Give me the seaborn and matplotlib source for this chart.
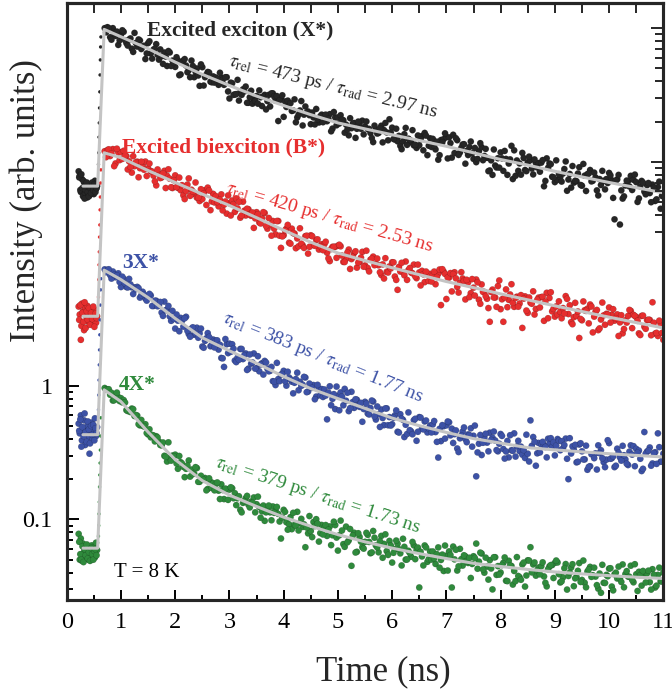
import numpy as np
import pandas as pd
import matplotlib
matplotlib.use("Agg")
import matplotlib.pyplot as plt
import seaborn as sns
from matplotlib.ticker import FixedLocator, NullFormatter

# ---------------- data ----------------
series_names = ["X*", "B*", "3X*", "4X*"]
series_colors = ["#262626", "#e62e2e", "#3d52a6", "#2f8a3c"]

# time bins before the pulse (ns)
t_pre = [0.22, 0.24, 0.26, 0.28, 0.30, 0.32, 0.34, 0.36, 0.38, 0.40,
         0.42, 0.44, 0.46, 0.48, 0.50, 0.52, 0.54, 0.56]
t_pre2 = [0.23, 0.25, 0.27, 0.29, 0.31, 0.33, 0.35, 0.37, 0.39, 0.41,
          0.43, 0.45, 0.47, 0.49, 0.51, 0.53, 0.55]
# time bins on the rising edge (ns)
t_rise = [0.585, 0.59, 0.595, 0.60, 0.605, 0.61, 0.615, 0.62, 0.625, 0.63]
# decay time bins: 0.70 ... 11.00 ns and the interleaved 0.725 ... 10.975 ns
t_decay = np.round(np.arange(0.70, 11.0001, 0.05), 3)
t_decay2 = np.round(np.arange(0.725, 10.976, 0.05), 3)

black_pre = [40, 37, 28, 35, 26, 33, 27.5, 31, 25.5, 30, 26.5, 32, 28, 31, 27, 34, 29.5, 31]
red_pre = [3.9, 3.4, 2.2, 4.1, 3.6, 2.6, 3.8, 3.3, 3.95, 3.0, 3.6, 3.2, 2.9, 3.4, 3.05, 3.7, 2.95, 3.3]
blue_pre = [0.52, 0.44, 0.6, 0.39, 0.47, 0.55, 0.36, 0.43, 0.5, 0.41, 0.31, 0.46, 0.53, 0.4, 0.45, 0.57, 0.42, 0.49]
green_pre = [0.078, 0.05, 0.072, 0.049, 0.066, 0.057, 0.052, 0.061, 0.055, 0.05, 0.058, 0.053,
             0.064, 0.056, 0.062, 0.052, 0.067, 0.059]

black_pre2 = [36, 29, 38, 30, 34, 25, 29, 33, 28, 26, 30, 27.5, 33, 29, 32, 28, 30]
red_pre2 = [3.1, 4.0, 2.8, 3.5, 3.0, 4.2, 2.7, 3.6, 3.1, 3.8, 2.85, 3.5, 3.15, 3.9, 2.75, 3.45, 3.2]
blue_pre2 = [0.46, 0.56, 0.35, 0.49, 0.42, 0.62, 0.45, 0.38, 0.54, 0.47, 0.37, 0.5, 0.43, 0.51, 0.39, 0.48, 0.44]
green_pre2 = [0.068, 0.055, 0.05, 0.063, 0.048, 0.06, 0.054, 0.065, 0.051, 0.057, 0.049, 0.061,
              0.055, 0.05, 0.058, 0.06, 0.054]

black_rise = [45, 55, 72, 92, 119, 157, 210, 272, 340, 404]
red_rise = [4.6, 6.2, 8.0, 10, 12.9, 15.9, 20.6, 25.7, 32.7, 41]
blue_rise = [0.66, 0.85, 1.1, 1.43, 1.85, 2.4, 3.1, 4.0, 5.2, 6.3]
green_rise = [0.075, 0.09, 0.11, 0.135, 0.175, 0.215, 0.264, 0.33, 0.42, 0.575]

black_decay = [
    470, 478, 402, 470, 411, 352, 421,
    441, 363, 386, 330, 433, 342, 380, 342, 276, 363,
    304, 325, 357, 273, 290, 309, 245, 309, 269, 241,
    270, 212, 269, 247, 228, 269, 202, 235, 174, 240,
    202, 221, 187, 205, 201, 177, 201, 177, 202, 140,
    182, 150, 193, 156, 164, 172, 130, 160, 137, 146,
    161, 123, 149, 134, 122, 153, 135, 95, 139, 102,
    121, 130, 113, 138, 101, 114, 88, 122, 112, 90,
    101, 117, 92.6, 106, 105, 94.7, 107, 83.4, 101, 101,
    105, 96.3, 89.3, 74.3, 84, 91.8, 83.1, 88.2, 95.6, 86.3,
    82.8, 77.3, 66.1, 82.2, 77.4, 87.6, 81.3, 78.1, 98, 84.8,
    69.1, 67, 62, 67.1, 84.4, 70.1, 65.9, 62.5, 59.8, 62.6,
    73.4, 77.4, 52.8, 70.6, 69.9, 58.3, 48.8, 68.5, 69.6, 72,
    71.7, 50.6, 54.7, 68.3, 55.3, 63.4, 45.6, 52.9, 66.8, 49.5,
    46.8, 56.5, 60.6, 52.1, 50.4, 40.6, 37.6, 44.2, 50.1, 55.4,
    40.3, 49.5, 45.7, 62, 57.4, 48.2, 45.8, 54.9, 40.9, 46.7,
    48.4, 37.9, 46.1, 46.1, 46.4, 30.9, 50, 45.8, 36.4, 33.2,
    34.5, 36.2, 38.5, 47.4, 34.7, 30.2, 32.9, 33.7, 42.9, 31.2,
    37.1, 38.1, 40.9, 34, 36, 26.4, 31.6, 33.9, 35, 38.9,
    34.3, 17.5, 34.8, 16, 25, 31.3, 33.8, 37, 34.5, 33.2,
    25.1, 33.9, 28.2, 31.5, 27.5, 31.8, 24, 30.5, 21, 26]

black_decay2 = [
    437, 470, 385, 432, 443, 381, 453, 382, 348, 394,
    312, 364, 387, 328, 347, 304, 375, 278, 329, 297,
    326, 254, 288, 317, 245, 259, 285, 209, 259, 276,
    220, 202, 245, 222, 208, 252, 175, 211, 219, 185,
    184, 196, 218, 193, 202, 158, 184, 149, 151, 135,
    149, 158, 130, 143, 128, 134, 128, 143, 145, 116,
    149, 153, 145, 146, 136, 148, 133, 135, 129, 114,
    93, 106, 134, 106, 110, 105, 110, 89.6, 97.7, 103,
    93.1, 106, 98.9, 79.6, 111, 88.3, 91, 97.2, 77.7, 82.2,
    99.8, 90.9, 71.1, 94.1, 83.1, 75.5, 94.3, 83, 70.9, 87.8,
    76.6, 83.7, 65.8, 91.9, 68.2, 78, 69.8, 83.2, 73.6, 58.5,
    75.8, 63, 68.7, 81.2, 63.2, 74.1, 69.3, 57.4, 73.9, 62.1,
    60.8, 62.2, 66.6, 52.8, 65.8, 76.9, 49.9, 65, 75, 70.7,
    53, 59.9, 63.8, 56.9, 60.7, 54.5, 59.8, 49.5, 64.9, 48.4,
    58.8, 40.1, 48.3, 58.2, 42.7, 42.6, 50, 56.8, 37.6, 49.1,
    35, 37, 40.3, 37.7, 50.3, 40.1, 51.5, 41.9, 49.1, 42.7,
    39.7, 48.5, 33.9, 42.5, 45.2, 36, 48.3, 38.1, 33.5, 41.6,
    28.6, 38.2, 43.8, 34, 38.5, 31.6, 45.4, 28.5, 38.5, 33.6,
    39.1, 28.8, 35, 40.3, 29.3, 32.7, 37.3, 25.3, 34.1, 37.6,
    28.8, 26, 34.1, 30.8, 29, 37.8, 23.6, 30.9, 32.9, 26.9,
    32.7, 23.5, 30.1, 24.7, 33.5, 26.2]

red_decay = [
    56.5, 57.6, 52, 58.6, 45.8, 55.4, 55.6,
    56.9, 51.9, 47.5, 39.1, 43.7, 47.2, 42.2, 44.2, 47.3, 42.1,
    40.1, 37.1, 31.4, 38.6, 36, 40.3, 37, 35.2, 30, 37.3,
    30.1, 28.9, 26.5, 28.5, 35.4, 29.1, 27.1, 25.4, 24, 24.8,
    28.9, 30.2, 20.5, 27.1, 26.1, 21.9, 26.9, 22.5, 19.3, 23.1,
    24.2, 19.9, 21.1, 18, 23.7, 18.7, 20.8, 18.6, 15.1, 19.8,
    16.6, 17.8, 19.5, 14.9, 15.9, 17, 13.5, 17, 10.7, 13.3,
    14.9, 11.7, 14.9, 13.7, 12.6, 15, 11.2, 13.1, 9.7, 13.3,
    11.25, 12.3, 10.4, 11.4, 11.4, 9.86, 8.53, 10.9, 10.9, 11.1,
    11, 8.41, 8.87, 10.4, 8.83, 9.81, 7.62, 8.4, 10, 7.91,
    7.57, 8.74, 9.21, 8.12, 7.94, 6.72, 6.32, 7.1, 7.78, 8.36,
    6.54, 5.2, 7.13, 7.04, 8.47, 7.3, 7.01, 8.03, 6.36, 7.02,
    7.21, 5.94, 6.86, 6.84, 6.7, 5.73, 6.85, 4.0, 7.11, 4.44,
    6.42, 5.06, 7.04, 5.47, 5.87, 6.32, 4.41, 5.91, 4.91, 5.4,
    6.21, 4.39, 5.71, 5.02, 4.46, 3.0, 5.22, 4.56, 5.55, 3.73,
    3.0, 5.24, 4.38, 5.73, 3.88, 4.62, 4.11, 2.7, 4.65, 3.5,
    4.17, 5.07, 3.74, 4.55, 4.59, 3.05, 4.94, 4.52, 3.59, 3.28,
    3.4, 3.57, 3.8, 4.67, 3.43, 2.98, 3.25, 3.32, 2.27, 3.08,
    3.66, 3.76, 4.04, 2.5, 3.56, 2.6, 3.12, 3.35, 3.44, 3.84,
    3.38, 3.06, 3.41, 2.97, 2.46, 3.08, 3.32, 3.62, 3.38, 3.26,
    2.46, 3.32, 2.76, 3.09, 3.1, 4.2, 2.45, 2.35, 2.9, 2.2]

red_decay2 = [
    51, 58.4, 54.4, 43.7, 59, 48.5, 49.5, 52.4, 41.3, 43.2,
    51.9, 46.7, 36.1, 47.2, 41.1, 36.9, 45.7, 39.8, 33.7, 41.3,
    35.6, 38.5, 30, 41.4, 30.4, 34.3, 30.5, 35.9, 31.5, 24.8,
    31.8, 26.2, 28.2, 33, 25.4, 29.4, 27.3, 22.4, 28.7, 23.8,
    23.4, 23.6, 24.5, 20.4, 23.8, 26.4, 18.7, 22.7, 25.1, 23.6,
    18.7, 20.3, 21, 19, 19.7, 17.8, 19.1, 16.3, 19.8, 15.6,
    17.9, 13.2, 14.9, 17, 13.2, 13.05, 14.5, 15.9, 11.5, 13.8,
    10.65, 11, 11.5, 10.7, 13.2, 10.9, 13.1, 11.1, 12.4, 11,
    10.3, 11.9, 8.94, 10.5, 10.9, 9.02, 11.3, 9.37, 8.4, 9.88,
    7.45, 9.17, 10.1, 8.31, 9.07, 7.74, 10.2, 7.14, 8.88, 7.95,
    8.91, 7.04, 8.06, 8.97, 7.01, 7.52, 8.35, 6.17, 7.72, 8.28,
    6.68, 6.17, 7.57, 6.92, 6.57, 8.03, 5.61, 6.8, 7.12, 6.06,
    6.0, 7.12, 6.48, 7.38, 7.42, 6.84, 6.42, 6.94, 6.81, 6.34,
    4.96, 7.05, 6.08, 6.18, 4.59, 6.26, 4.71, 5.92, 4.09, 5.02,
    4.67, 3.8, 5.02, 4.56, 3.88, 6.11, 4.42, 4.57, 3.86, 4.8,
    4.16, 4.52, 3.89, 4.75, 4.47, 3.64, 4.56, 4.09, 3.4, 4.38,
    3.84, 4.61, 4.24, 3.19, 4.99, 3.75, 3.91, 4.27, 3.19, 3.46,
    4.45, 3.99, 2.88, 4.16, 3.58, 3.15, 4.26, 3.62, 2.92, 3.9,
    3.28, 3.68, 2.68, 4.18, 2.85, 3.41, 2.96, 3.73, 3.19, 2.35,
    3.36, 2.65, 2.96, 3.68, 2.69, 3.32, 3.05, 2.39, 3.34, 2.66,
    3.11, 2.38, 2.95, 2.48, 3.06, 2.48]

blue_decay = [
    7.4, 7.32, 6.71, 7.13, 6.46, 6.91, 5.46,
    6.28, 5.46, 6.28, 5.43, 5.43, 5.47, 4.55, 5.03, 4.48, 4.55,
    4.72, 3.94, 4.31, 3.96, 3.52, 4.25, 3.7, 3.29, 3.62, 2.67,
    3.06, 3.21, 2.76, 3.27, 2.43, 2.67, 2.4, 2.71, 2.46, 1.96,
    2.16, 2.47, 1.97, 2.21, 2.17, 1.86, 1.61, 1.38, 2.04, 2.06,
    2.04, 1.54, 1.62, 1.88, 1.58, 1.74, 1.34, 1.46, 1.74, 1.35,
    1.28, 1.47, 1.53, 1.34, 1.29, 1.08, 1.01, 1.12, 1.21, 1.29,
    1.0, 1.15, 1.07, 1.05, 1.25, 1.07, 1.016, 1.15, 0.904, 0.988,
    1.01, 0.828, 0.95, 0.943, 0.936, 0.56, 0.989, 0.797, 0.668, 0.84,
    0.89, 0.713, 0.771, 0.645, 0.9, 0.682, 0.784, 0.694, 0.537, 0.757,
    0.619, 0.681, 0.761, 0.558, 0.612, 0.663, 0.507, 0.676, 0.582, 0.515,
    0.599, 0.452, 0.612, 0.555, 0.51, 0.631, 0.455, 0.552, 0.387, 0.582,
    0.477, 0.54, 0.447, 0.504, 0.513, 0.45, 0.29, 0.385, 0.498, 0.505,
    0.532, 0.477, 0.434, 0.339, 0.404, 0.454, 0.399, 0.432, 0.48, 0.422,
    0.21, 0.368, 0.303, 0.406, 0.375, 0.445, 0.408, 0.389, 0.323, 0.435,
    0.336, 0.322, 0.291, 0.329, 0.44, 0.351, 0.324, 0.305, 0.288, 0.31,
    0.55, 0.413, 0.252, 0.373, 0.364, 0.36, 0.291, 0.367, 0.349, 0.301,
    0.399, 0.329, 0.341, 0.402, 0.2, 0.311, 0.333, 0.267, 0.363, 0.323,
    0.281, 0.235, 0.25, 0.307, 0.312, 0.358, 0.329, 0.268, 0.28, 0.372,
    0.287, 0.246, 0.338, 0.291, 0.355, 0.281, 0.255, 0.358, 0.353, 0.337,
    0.327, 0.23, 0.45, 0.322, 0.345, 0.262, 0.318, 0.44, 0.27, 0.31]

blue_decay2 = [
    7.04, 7.41, 6.31, 6.72, 6.66, 5.95, 6.52, 5.81, 5.42, 5.71,
    4.84, 5.26, 5.35, 4.73, 4.81, 4.32, 4.85, 3.94, 4.31, 3.92,
    4.22, 3.32, 3.66, 3.94, 3.05, 3.15, 3.4, 2.55, 3.06, 3.19,
    2.57, 2.32, 2.73, 2.46, 2.28, 2.67, 1.92, 2.26, 2.31, 2.0,
    1.93, 2.18, 2.02, 1.6, 2.23, 1.75, 1.79, 1.89, 1.5, 1.56,
    1.88, 1.69, 1.31, 1.71, 1.49, 1.34, 1.66, 1.44, 1.21, 1.49,
    1.28, 1.38, 1.07, 1.48, 1.08, 1.22, 1.08, 1.27, 1.115, 0.876,
    1.12, 0.924, 0.996, 1.163, 0.894, 1.036, 0.963, 0.791, 1.014, 0.846,
    0.823, 0.843, 0.887, 0.714, 0.864, 0.984, 0.654, 0.829, 0.946, 0.885,
    0.679, 0.755, 0.791, 0.708, 0.743, 0.669, 0.733, 0.609, 0.774, 0.59,
    0.699, 0.491, 0.573, 0.676, 0.506, 0.503, 0.576, 0.653, 0.446, 0.566,
    0.413, 0.435, 0.465, 0.433, 0.565, 0.452, 0.577, 0.471, 0.549, 0.48,
    0.447, 0.544, 0.38, 0.476, 0.507, 0.402, 0.54, 0.425, 0.373, 0.463,
    0.319, 0.424, 0.487, 0.378, 0.427, 0.35, 0.503, 0.317, 0.428, 0.374,
    0.437, 0.323, 0.392, 0.454, 0.33, 0.368, 0.421, 0.285, 0.386, 0.426,
    0.326, 0.295, 0.387, 0.35, 0.33, 0.43, 0.271, 0.355, 0.381, 0.312,
    0.317, 0.38, 0.348, 0.401, 0.405, 0.377, 0.356, 0.388, 0.384, 0.36,
    0.284, 0.405, 0.352, 0.361, 0.27, 0.371, 0.281, 0.356, 0.247, 0.307,
    0.287, 0.236, 0.313, 0.287, 0.246, 0.391, 0.284, 0.296, 0.252, 0.315,
    0.275, 0.302, 0.261, 0.321, 0.305, 0.25, 0.315, 0.284, 0.239, 0.31,
    0.327, 0.252, 0.313, 0.26, 0.347, 0.272]

green_decay = [
    0.96, 0.939, 0.855, 0.774, 0.846, 0.822, 0.806,
    0.78, 0.656, 0.647, 0.674, 0.593, 0.597, 0.505, 0.502, 0.515, 0.432,
    0.411, 0.424, 0.419, 0.382, 0.358, 0.299, 0.271, 0.289, 0.3, 0.305,
    0.239, 0.268, 0.247, 0.239, 0.276, 0.236, 0.22, 0.242, 0.191, 0.203,
    0.204, 0.169, 0.191, 0.187, 0.184, 0.164, 0.183, 0.142, 0.168, 0.167,
    0.171, 0.157, 0.144, 0.118, 0.133, 0.144, 0.129, 0.136, 0.146, 0.13,
    0.124, 0.115, 0.0976, 0.121, 0.113, 0.125, 0.116, 0.11, 0.072, 0.118,
    0.0953, 0.0919, 0.0846, 0.0911, 0.114, 0.094, 0.0879, 0.062, 0.0787, 0.0819,
    0.0957, 0.1005, 0.0683, 0.0909, 0.0872, 0.0753, 0.0887, 0.0762, 0.0907, 0.0585,
    0.098, 0.0654, 0.0884, 0.0697, 0.045, 0.0795, 0.0573, 0.074, 0.062, 0.068,
    0.0767, 0.0559, 0.082, 0.0639, 0.0568, 0.0753, 0.0656, 0.058, 0.0691, 0.0476,
    0.0599, 0.0659, 0.0558, 0.0717, 0.0501, 0.0583, 0.0526, 0.064, 0.0589, 0.031,
    0.0529, 0.0639, 0.0482, 0.0575, 0.0576, 0.0465, 0.0618, 0.0498, 0.0412, 0.0536,
    0.0577, 0.031, 0.0503, 0.0415, 0.0603, 0.0452, 0.053, 0.0473, 0.0365, 0.0531,
    0.066, 0.0484, 0.0556, 0.04, 0.0444, 0.0496, 0.030, 0.0522, 0.0448, 0.0401,
    0.0474, 0.0348, 0.0491, 0.0449, 0.0412, 0.0523, 0.037, 0.0461, 0.0315, 0.0495,
    0.062, 0.0461, 0.038, 0.0437, 0.0447, 0.0375, 0.0316, 0.0446, 0.0456, 0.0474,
    0.0477, 0.0338, 0.0369, 0.0464, 0.0378, 0.0437, 0.0317, 0.0371, 0.0472, 0.0353,
    0.0336, 0.0408, 0.0442, 0.0383, 0.0374, 0.0304, 0.0283, 0.0336, 0.0385, 0.0429,
    0.0315, 0.0389, 0.0362, 0.0361, 0.0461, 0.039, 0.0374, 0.0451, 0.0339, 0.0389,
    0.0406, 0.032, 0.0394, 0.0396, 0.034, 0.0425, 0.031, 0.0385, 0.0345, 0.040]

green_decay2 = [
    0.93, 0.94, 0.885, 0.778, 0.887, 0.767, 0.75, 0.748, 0.646, 0.635,
    0.667, 0.603, 0.515, 0.554, 0.495, 0.442, 0.472, 0.428, 0.383, 0.41,
    0.36, 0.376, 0.294, 0.377, 0.275, 0.296, 0.262, 0.298, 0.262, 0.207,
    0.253, 0.209, 0.218, 0.246, 0.191, 0.212, 0.198, 0.165, 0.203, 0.172,
    0.165, 0.189, 0.142, 0.166, 0.17, 0.14, 0.174, 0.144, 0.128, 0.149,
    0.113, 0.137, 0.15, 0.123, 0.133, 0.113, 0.148, 0.103, 0.127, 0.113,
    0.127, 0.0986, 0.112, 0.124, 0.0965, 0.103, 0.114, 0.0838, 0.104, 0.112,
    0.0897, 0.0827, 0.101, 0.092, 0.0869, 0.106, 0.0738, 0.0892, 0.0931, 0.0791,
    0.0772, 0.0908, 0.0838, 0.0643, 0.0962, 0.0732, 0.0761, 0.0827, 0.0624, 0.0675,
    0.0848, 0.0759, 0.0566, 0.0789, 0.0682, 0.0605, 0.0794, 0.0679, 0.0567, 0.073,
    0.0619, 0.0689, 0.0517, 0.0774, 0.0543, 0.064, 0.0563, 0.0695, 0.06, 0.0453,
    0.0624, 0.0502, 0.0561, 0.0679, 0.0505, 0.0616, 0.0573, 0.0453, 0.0618, 0.0505,
    0.0501, 0.0512, 0.055, 0.0436, 0.0546, 0.0638, 0.0415, 0.0542, 0.0627, 0.0593,
    0.0446, 0.0505, 0.054, 0.0483, 0.0517, 0.0465, 0.0515, 0.0428, 0.0565, 0.0423,
    0.0518, 0.0355, 0.043, 0.0522, 0.0385, 0.0387, 0.0456, 0.052, 0.0346, 0.0453,
    0.0326, 0.0346, 0.0378, 0.0354, 0.0476, 0.0381, 0.0493, 0.0402, 0.0477, 0.0416,
    0.0389, 0.0478, 0.0336, 0.0425, 0.0456, 0.0365, 0.0493, 0.039, 0.0345, 0.0432,
    0.0299, 0.0401, 0.0463, 0.0363, 0.0413, 0.0341, 0.0493, 0.0311, 0.0423, 0.0372,
    0.0436, 0.0323, 0.0394, 0.0458, 0.0335, 0.0376, 0.0432, 0.0295, 0.04, 0.0444,
    0.0341, 0.0311, 0.0411, 0.0373, 0.0353, 0.0463, 0.0292, 0.0383, 0.0412, 0.0338,
    0.0414, 0.0299, 0.0386, 0.032, 0.0436, 0.0344]

# fitted curves (grey lines)
t_fit = [0.30, 0.57, 0.69, 1.0, 1.5, 2.0, 2.5, 3.0, 3.5, 4.0, 4.5, 5.0, 5.5, 6.0,
         6.5, 7.0, 7.5, 8.0, 8.5, 9.0, 9.5, 10.0, 10.5, 11.0]
black_fit = [31, 31, 460, 405, 330, 262, 212, 175, 146, 124, 106, 92, 83, 75, 68,
             61.5, 55, 49, 44.5, 40, 36.3, 33, 30.2, 27.6]
red_fit = [3.3, 3.3, 55, 50.5, 40.5, 33, 27, 22.2, 18, 14.5, 11.8, 9.8, 8.6, 7.6,
           6.75, 6.0, 5.4, 4.85, 4.38, 3.95, 3.58, 3.25, 2.96, 2.70]
blue_fit = [0.43, 0.43, 7.3, 6.2, 4.55, 3.18, 2.28, 1.82, 1.47, 1.17, 0.95, 0.80,
            0.676, 0.572, 0.502, 0.447, 0.402, 0.372, 0.344, 0.331, 0.320, 0.310,
            0.301, 0.293]
green_fit = [0.061, 0.061, 0.93, 0.76, 0.45, 0.28, 0.195, 0.152, 0.125, 0.104, 0.089,
             0.077, 0.068, 0.061, 0.0555, 0.051, 0.047, 0.0445, 0.0423, 0.0405,
             0.0392, 0.038, 0.037, 0.0362]

name_labels = ["Excited exciton (X*)", "Excited biexciton (B*)", "3X*", "4X*"]
tau_rel = ["473 ps", "420 ps", "383 ps", "379 ps"]
tau_rad = ["2.97 ns", "2.53 ns", "1.77 ns", "1.73 ns"]

pre_all = [black_pre, red_pre, blue_pre, green_pre]
pre2_all = [black_pre2, red_pre2, blue_pre2, green_pre2]
rise_all = [black_rise, red_rise, blue_rise, green_rise]
decay_all = [black_decay, red_decay, blue_decay, green_decay]
decay2_all = [black_decay2, red_decay2, blue_decay2, green_decay2]
fit_all = [black_fit, red_fit, blue_fit, green_fit]

# ---------------- tables ----------------
rows = []
for name, pre, pre2, rise, dec, dec2 in zip(series_names, pre_all, pre2_all, rise_all,
                                            decay_all, decay2_all):
    assert len(dec) == len(t_decay) and len(dec2) == len(t_decay2)
    for tt, vv in ((t_pre, pre), (t_pre2, pre2), (t_decay, dec), (t_decay2, dec2)):
        for t, v in zip(tt, vv):
            rows.append((name, t, v, "main"))
    for t, v in zip(t_rise, rise):
        rows.append((name, t, v, "rise"))
df = pd.DataFrame(rows, columns=["series", "time", "intensity", "kind"])
palette = dict(zip(series_names, series_colors))

# ---------------- style ----------------
sns.set_style("ticks")
plt.rcParams["font.family"] = ["Liberation Serif", "DejaVu Serif"]
plt.rcParams["mathtext.fontset"] = "stix"

fig = plt.figure(figsize=(6.72, 6.95), dpi=100)
ax = fig.add_axes([0.0993, 0.1367, 0.8878, 0.8586])

sns.scatterplot(data=df[df.kind == "main"], x="time", y="intensity", hue="series",
                palette=palette, s=21, linewidth=0.25, edgecolor="#00000055",
                legend=False, ax=ax, zorder=2)
sns.scatterplot(data=df[df.kind == "rise"], x="time", y="intensity", hue="series",
                palette=palette, s=6, linewidth=0, legend=False, ax=ax, zorder=2)
for fit in fit_all:
    sns.lineplot(x=t_fit, y=fit, color="#c4c4c4", lw=2.2, sort=False,
                 estimator=None, ax=ax, zorder=3)

ax.set_yscale("log")
ax.set_xlim(0, 11)
ax.set_ylim(0.0250, 721)

# ticks
ax.set_xticks(range(0, 12))
ax.set_xticks(np.arange(0.5, 11, 1.0), minor=True)
ax.set_xticklabels([str(i) for i in range(0, 12)])
ax.yaxis.set_major_locator(FixedLocator([0.1, 1]))
ax.yaxis.set_minor_locator(FixedLocator([0.03, 0.04, 0.05, 0.06, 0.07, 0.08, 0.09,
                                         0.2, 0.3, 0.4, 0.5, 0.6, 0.7, 0.8, 0.9]))
ax.set_yticklabels(["0.1", "1"])
ax.yaxis.set_minor_formatter(NullFormatter())
ax.tick_params(axis="both", which="both", direction="in", width=1.4, colors="black")
ax.tick_params(axis="x", which="major", length=7.2, pad=9, labelsize=17.5)
ax.tick_params(axis="x", which="minor", length=3.6)
ax.tick_params(axis="y", which="major", length=8.6, pad=10, labelsize=17.5)
ax.tick_params(axis="y", which="minor", length=4.3)
ax.set_xlabel("")
ax.set_ylabel("")
for sp in ax.spines.values():
    sp.set_linewidth(2.2)
    sp.set_color("black")
    sp.set_visible(True)

# top ticks (every 0.5 ns, no labels)
sec = ax.secondary_xaxis("top")
sec.set_xticks(np.arange(0.5, 10.6, 0.5))
sec.tick_params(direction="in", length=7.2, width=1.4, labeltop=False)
sec.spines["top"].set_linewidth(2.2)

# right-hand log ticks (offset decade)
ax2 = ax.twinx()
ax2.set_yscale("log")
ax2.set_ylim(0.0250 / 47.1, 721 / 47.1)
ax2.yaxis.set_major_locator(FixedLocator([1, 10]))
ax2.yaxis.set_minor_locator(FixedLocator([0.3, 0.4, 0.5, 0.6, 0.7, 0.8, 0.9,
                                          2, 3, 4, 5, 6, 7, 8, 9]))
ax2.yaxis.set_major_formatter(NullFormatter())
ax2.yaxis.set_minor_formatter(NullFormatter())
ax2.tick_params(axis="y", which="major", direction="in", length=8.6, width=1.4)
ax2.tick_params(axis="y", which="minor", direction="in", length=5.5, width=1.4)
for sp in ax2.spines.values():
    sp.set_linewidth(2.2)

# ---------------- annotations ----------------
name_pos = [(1.48, 455), (1.02, 60.7), (1.02, 8.3), (0.95, 1.01)]
for (x, y), lab, c in zip(name_pos, name_labels, series_colors):
    ax.text(x, y, lab, color=c, fontsize=15.5, fontweight="bold", ha="left", va="center",
            zorder=6)

tau_pos = [(4.91, 171, -14), (4.85, 17.9, -16), (4.73, 1.61, -22), (4.63, 0.152, -18)]
for (x, y, rot), r1, r2, c in zip(tau_pos, tau_rel, tau_rad, series_colors):
    s = r"$\tau_{\rm rel}$ = " + r1 + r" / $\tau_{\rm rad}$ = " + r2
    ax.text(x, y, s, color=c, fontsize=14, rotation=rot, rotation_mode="anchor",
            ha="center", va="center", zorder=6)

ax.text(0.873, 0.0398, "T = 8 K", fontsize=15, ha="left", va="center", color="black")

fig.text(383 / 672, 1 - 672 / 695, "Time (ns)", fontsize=25, ha="center", va="center")
fig.text(26 / 672, 1 - 201 / 695, "Intensity (arb. units)", fontsize=25, rotation=90,
         ha="center", va="center")

fig.savefig("out.png", dpi=100)
